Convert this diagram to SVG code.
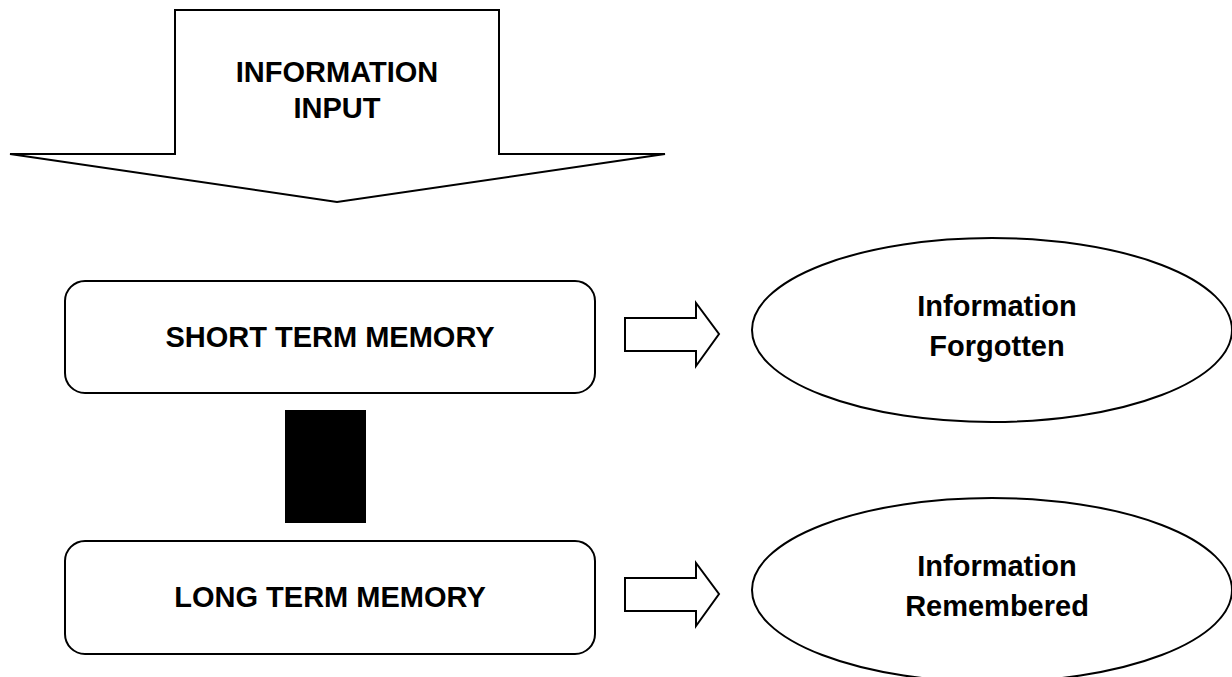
<svg xmlns="http://www.w3.org/2000/svg" width="1232" height="677" viewBox="0 0 1232 677">
  <style>
    .shape { fill: #ffffff; stroke: #000000; stroke-width: 2; stroke-linejoin: miter; }
    .label { font-family: "Liberation Sans", Arial, sans-serif; font-weight: bold; font-size: 29px; fill: #000000; text-anchor: middle; }
  </style>
  <rect width="1232" height="677" fill="#ffffff"/>

  <!-- Incoming information: large block arrow pointing down -->
  <g id="information-input">
    <polygon class="shape" points="175,10 499,10 499,154 665,154 337,202 10,154 175,154"/>
    <text class="label" x="337" y="82">INFORMATION</text>
    <text class="label" x="337" y="118">INPUT</text>
  </g>

  <g id="short-term-memory">
    <rect class="shape" x="65" y="281" width="530" height="112" rx="20" ry="20"/>
    <text class="label" x="330" y="347">SHORT TERM MEMORY</text>
  </g>

  <g id="long-term-memory">
    <rect class="shape" x="65" y="541" width="530" height="113" rx="20" ry="20"/>
    <text class="label" x="330" y="607">LONG TERM MEMORY</text>
  </g>

  <g id="information-forgotten">
    <ellipse class="shape" cx="992" cy="330" rx="240" ry="92"/>
    <text class="label" x="997" y="316">Information</text>
    <text class="label" x="997" y="356">Forgotten</text>
  </g>

  <g id="information-remembered">
    <ellipse class="shape" cx="992" cy="590" rx="240" ry="92"/>
    <text class="label" x="997" y="576">Information</text>
    <text class="label" x="997" y="616">Remembered</text>
  </g>

  <!-- Connectors: block arrows and the solid bar between the memory stores -->
  <g id="connectors">
    <polygon class="shape" points="625,318 696,318 696,303 719,334 696,366 696,351 625,351"/>
    <polygon class="shape" points="625,578 696,578 696,563 719,594 696,626 696,611 625,611"/>
    <rect x="285" y="410" width="81" height="113" fill="#000000"/>
  </g>
</svg>
